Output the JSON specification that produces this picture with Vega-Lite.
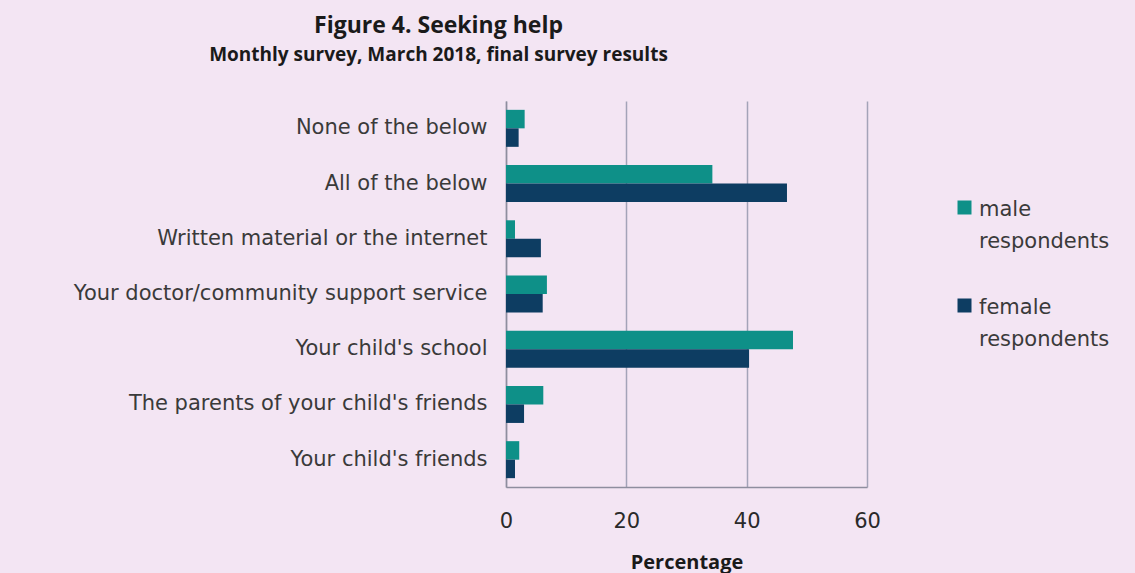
{
  "$schema": "https://vega.github.io/schema/vega-lite/v6.json",
  "width": 361,
  "height": 386,
  "autosize": {"type": "none"},
  "padding": {"left": 506, "top": 101, "right": 268, "bottom": 86},
  "background": "#F3E5F3",
  "title": {
    "text": "Figure 4. Seeking help",
    "subtitle": "Monthly survey, March 2018, final survey results",
    "anchor": "middle",
    "frame": "group",
    "dx": -248,
    "offset": 36,
    "font": "Open Sans",
    "fontSize": 23,
    "fontWeight": "bold",
    "color": "#1A1A1A",
    "subtitleFont": "Open Sans",
    "subtitleFontSize": 19,
    "subtitleFontWeight": "bold",
    "subtitleColor": "#1A1A1A",
    "subtitlePadding": 8
  },
  "data": {
    "values": [
      {"answer": "None of the below", "sex": "male respondents", "percentage": 3.1},
      {"answer": "None of the below", "sex": "female respondents", "percentage": 2.1},
      {"answer": "All of the below", "sex": "male respondents", "percentage": 34.3},
      {"answer": "All of the below", "sex": "female respondents", "percentage": 46.7},
      {"answer": "Written material or the internet", "sex": "male respondents", "percentage": 1.5},
      {"answer": "Written material or the internet", "sex": "female respondents", "percentage": 5.8},
      {"answer": "Your doctor/community support service", "sex": "male respondents", "percentage": 6.8},
      {"answer": "Your doctor/community support service", "sex": "female respondents", "percentage": 6.1},
      {"answer": "Your child's school", "sex": "male respondents", "percentage": 47.7},
      {"answer": "Your child's school", "sex": "female respondents", "percentage": 40.4},
      {"answer": "The parents of your child's friends", "sex": "male respondents", "percentage": 6.2},
      {"answer": "The parents of your child's friends", "sex": "female respondents", "percentage": 3.0},
      {"answer": "Your child's friends", "sex": "male respondents", "percentage": 2.2},
      {"answer": "Your child's friends", "sex": "female respondents", "percentage": 1.5}
    ]
  },
  "mark": {"type": "bar"},
  "encoding": {
    "y": {
      "field": "answer",
      "type": "nominal",
      "sort": ["None of the below", "All of the below", "Written material or the internet", "Your doctor/community support service", "Your child's school", "The parents of your child's friends", "Your child's friends"],
      "scale": {"paddingInner": 0.33, "paddingOuter": 0.16},
      "axis": {
        "title": null,
        "ticks": false,
        "domain": true,
        "domainColor": "#8E8E9E",
        "domainWidth": 1.5,
        "labelFont": "DejaVu Sans",
        "labelFontSize": 21,
        "labelColor": "#3A3A3A",
        "labelPadding": 19,
        "labelLimit": 0
      }
    },
    "x": {
      "field": "percentage",
      "type": "quantitative",
      "scale": {"domain": [0, 60]},
      "axis": {
        "values": [0, 20, 40, 60],
        "title": "Percentage",
        "titleFont": "Open Sans",
        "titleFontSize": 20,
        "titleFontWeight": "bold",
        "titleColor": "#1A1A1A",
        "titlePadding": 21,
        "grid": true,
        "gridColor": "#A3A3B8",
        "gridWidth": 1.5,
        "ticks": false,
        "domainColor": "#8E8E9E",
        "domainWidth": 1.5,
        "labelFont": "DejaVu Sans",
        "labelFontSize": 21,
        "labelColor": "#2A2A2A",
        "labelPadding": 23,
        "labelFlush": false
      }
    },
    "yOffset": {"field": "sex", "sort": ["male respondents", "female respondents"]},
    "color": {
      "field": "sex",
      "type": "nominal",
      "scale": {"domain": ["male respondents", "female respondents"], "range": ["#0E9088", "#0D3D62"]},
      "legend": {
        "title": null,
        "orient": "none",
        "legendX": 448,
        "legendY": 96,
        "symbolType": "square",
        "symbolSize": 196,
        "symbolStrokeWidth": 0,
        "labelFont": "DejaVu Sans",
        "labelFontSize": 21,
        "labelColor": "#3A3A3A",
        "labelExpr": "split(datum.label, ' ')",
        "labelBaseline": "top",
        "labelOffset": 4,
        "rowPadding": 43,
        "labelLimit": 0,
        "labelOverlap": false,
        "encode": {"labels": {"update": {"lineHeight": {"value": 32}, "dy": {"value": -9}}}}
      }
    }
  },
  "config": {"view": {"stroke": null}}
}
